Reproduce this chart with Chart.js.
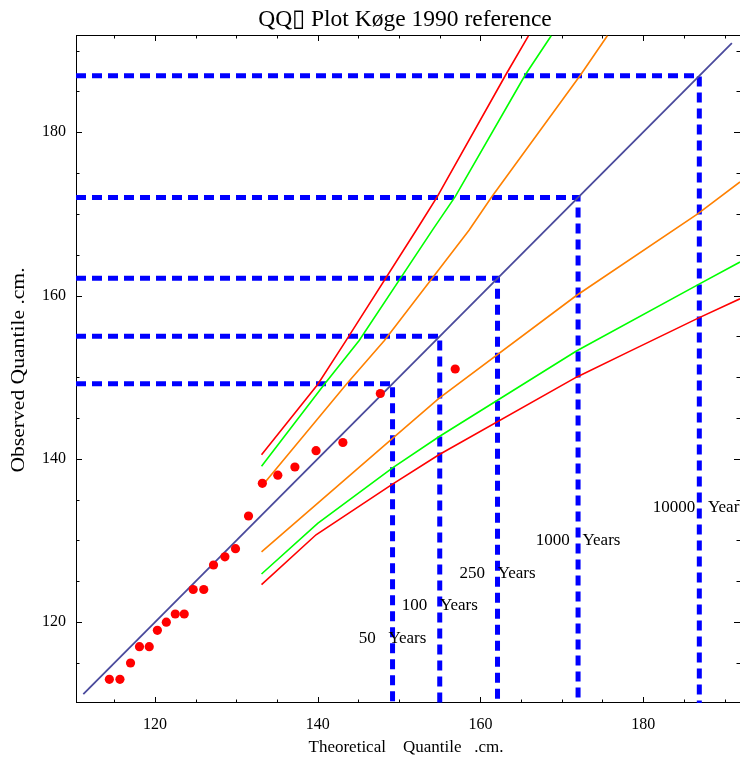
<!DOCTYPE html>
<html>
<head>
<meta charset="utf-8">
<script src="https://cdn.jsdelivr.net/npm/chart.js@4.4.1/dist/chart.umd.min.js"></script>
<style>
    body { margin: 0; background: #fff; }
    #wrap { width: 740px; height: 760px; }
</style>
</head>
<body>
<div id="wrap"><canvas id="qqChart"></canvas></div>
<script>
// observed annual maxima against their theoretical quantiles
const theoretical = [114.4, 115.7, 117.0, 118.1, 119.3, 120.3, 121.4, 122.5, 123.6, 124.7, 126.0,
    127.2, 128.6, 129.9, 131.5, 133.2, 135.1, 137.2, 139.8, 143.1, 147.7, 156.9];
const observed = [113, 113, 115, 117, 117, 119, 120, 121, 121, 124, 124,
    127, 128, 129, 133, 137, 138, 139, 141, 142, 148, 151];

const diagonal = [111.2, 190.9];

// confidence bands (x = theoretical, y = observed)
const upperRedX = [133.1, 140.0, 143.5, 152.5, 154.7, 163.1, 165.9];
const upperRedY = [140.5, 149.1, 154.5, 168.6, 172.1, 187.0, 191.8];
const upperGreenX = [133.1, 140.8, 145.1, 154.1, 156.9, 165.5, 168.7];
const upperGreenY = [139.1, 149.1, 154.5, 168.0, 172.1, 187.0, 191.8];
const upperOrangeX = [133.1, 143.5, 148.2, 158.6, 161.4, 172.3, 175.6];
const upperOrangeY = [136.6, 149.1, 154.5, 168.0, 172.1, 187.0, 191.8];
const lowerOrangeX = [133.1, 149.2, 154.9, 171.8, 186.7, 191.9];
const lowerOrangeY = [128.6, 142.5, 147.4, 160.0, 170.0, 173.9];
const lowerGreenX = [133.1, 140.0, 149.2, 154.9, 171.8, 186.7, 191.9];
const lowerGreenY = [125.9, 132.1, 138.9, 142.7, 153.2, 161.3, 164.1];
const lowerRedX = [133.1, 139.8, 149.2, 154.9, 171.8, 178.2, 186.7, 191.9];
const lowerRedY = [124.6, 130.7, 136.9, 140.5, 150.0, 153.1, 157.2, 159.6];

// return periods and their levels
const returnPeriods = ['50', '100', '250', '1000', '10000'];
const returnLevels = [149.2, 155.0, 162.1, 172.0, 186.9];

const xTickLabels = [120, 140, 160, 180];
const yTickLabels = [120, 140, 160, 180];

const X_MIN = 110.3, X_MAX = 191.9;
const Y_MIN = 110.1, Y_MAX = 191.9;
const SERIF = "'Liberation Serif', 'Times New Roman', serif";

function pairs(xs, ys) {
    return xs.map((x, i) => ({ x: x, y: ys[i] }));
}

function band(xs, ys, color) {
    return {
        data: pairs(xs, ys),
        showLine: true,
        borderColor: color,
        borderWidth: 1.6,
        pointRadius: 0,
        fill: false
    };
}

const datasets = [
    {
        data: pairs(theoretical, observed),
        backgroundColor: '#ff0000',
        borderWidth: 0,
        pointRadius: 4.6
    },
    {
        data: pairs(diagonal, diagonal),
        showLine: true,
        borderColor: '#4a4a9c',
        borderWidth: 1.8,
        pointRadius: 0
    },
    band(upperRedX, upperRedY, '#ff0000'),
    band(upperGreenX, upperGreenY, '#00ff00'),
    band(upperOrangeX, upperOrangeY, '#ff8000'),
    band(lowerOrangeX, lowerOrangeY, '#ff8000'),
    band(lowerGreenX, lowerGreenY, '#00ff00'),
    band(lowerRedX, lowerRedY, '#ff0000')
];

returnLevels.forEach(level => {
    datasets.push({
        data: [{ x: X_MIN, y: level }, { x: level, y: level }, { x: level, y: Y_MIN }],
        showLine: true,
        borderColor: '#0000ff',
        borderWidth: 5,
        borderDash: [10, 6],
        borderCapStyle: 'butt',
        pointRadius: 0
    });
});

// frame with inward ticks, period labels and titles
const framePlugin = {
    id: 'framePlugin',
    beforeDatasetsDraw(chart) {
        const { ctx, chartArea: a, scales } = chart;
        ctx.save();
        ctx.strokeStyle = '#000';
        ctx.lineWidth = 1;
        ctx.strokeRect(a.left + 0.5, a.top + 0.5, a.right - a.left, a.bottom - a.top - 1);
        ctx.beginPath();
        for (let v = 115; v <= 190; v += 5) {
            const len = v % 20 === 0 ? 6 : 3.5;
            const px = Math.round(scales.x.getPixelForValue(v)) + 0.5;
            ctx.moveTo(px, a.bottom); ctx.lineTo(px, a.bottom - len);
            ctx.moveTo(px, a.top); ctx.lineTo(px, a.top + len);
            const py = Math.round(scales.y.getPixelForValue(v)) + 0.5;
            ctx.moveTo(a.left, py); ctx.lineTo(a.left + len, py);
            ctx.moveTo(a.right, py); ctx.lineTo(a.right - len, py);
        }
        ctx.stroke();
        ctx.restore();
    },
    afterDatasetsDraw(chart) {
        const { ctx, scales } = chart;
        ctx.save();
        ctx.fillStyle = '#000';
        ctx.font = '17px ' + SERIF;
        ctx.textAlign = 'center';
        ctx.textBaseline = 'middle';
        returnPeriods.forEach((p, i) => {
            const px = scales.x.getPixelForValue(returnLevels[i]);
            const py = scales.y.getPixelForValue(118 + 4 * i);
            ctx.fillText(p + '   Years', px, py);
        });
        ctx.restore();
    },
    afterDraw(chart) {
        const { ctx } = chart;
        ctx.save();
        ctx.fillStyle = '#000';
        ctx.textAlign = 'center';
        ctx.textBaseline = 'middle';
        ctx.font = '23.5px ' + SERIF;
        ctx.fillText('QQ\u25AF Plot K\u00f8ge 1990 reference', 405, 20);
        ctx.font = '17px ' + SERIF;
        ctx.fillText('Theoretical    Quantile   .cm.', 406, 748);
        ctx.translate(19, 370);
        ctx.rotate(-Math.PI / 2);
        ctx.scale(1.2, 1);
        ctx.font = '18px ' + SERIF;
        ctx.fillText('Observed Quantile .cm.', 0, 0);
        ctx.restore();
    }
};

const chart = new Chart(document.getElementById('qqChart'), {
    type: 'scatter',
    data: { datasets },
    options: {
        responsive: true,
        maintainAspectRatio: false,
        animation: false,
        layout: { autoPadding: false, padding: { top: 35, right: 0, left: 0, bottom: 0 } },
        plugins: {
            legend: { display: false },
            tooltip: { enabled: false }
        },
        scales: {
            x: {
                type: 'linear',
                min: X_MIN,
                max: X_MAX,
                grid: { display: false, drawTicks: false },
                border: { display: false },
                afterBuildTicks: (scale) => { scale.ticks = xTickLabels.map(v => ({ value: v })); },
                afterFit: (scale) => { scale.height = 57; },
                ticks: { color: '#000', padding: 12, font: { family: SERIF, size: 16 } }
            },
            y: {
                type: 'linear',
                min: Y_MIN,
                max: Y_MAX,
                grid: { display: false, drawTicks: false },
                border: { display: false },
                afterBuildTicks: (scale) => { scale.ticks = yTickLabels.map(v => ({ value: v })); },
                afterFit: (scale) => { scale.width = 76; },
                ticks: { color: '#000', padding: 10, font: { family: SERIF, size: 16 } }
            }
        }
    },
    plugins: [framePlugin]
});
</script>
</body>
</html>
